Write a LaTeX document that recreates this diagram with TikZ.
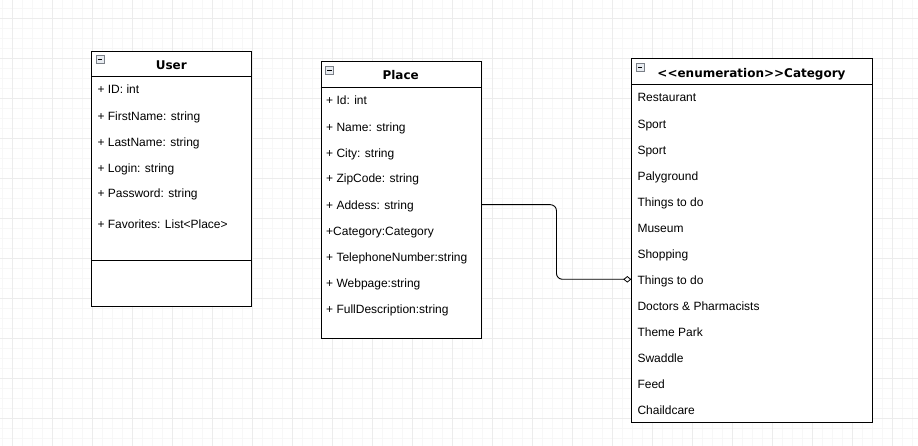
\documentclass[tikz,border=0pt]{standalone}
\usepackage{fontspec}
\setmainfont{Liberation Sans}
\newfontfamily\titlefont{DejaVu Sans}
\usetikzlibrary{arrows.meta,calc}
\definecolor{gridminor}{HTML}{F7F7F7}
\definecolor{gridmajor}{HTML}{ECECEC}
\definecolor{icongray}{HTML}{7A7F87}
\definecolor{iconfill}{HTML}{E8ECF1}
\tikzset{
  umlbox/.style={draw=black, line width=0.9pt, fill=white, anchor=north west, inner sep=0pt, rectangle},
  rowtext/.style={anchor=base west, inner sep=0pt, font=\fontsize{12}{14}\selectfont, text=black},
  titletext/.style={anchor=base, inner sep=0pt, font=\titlefont\bfseries\fontsize{12}{14}\selectfont},
  sepline/.style={line width=0.9pt},
  iconbox/.style={draw=icongray, fill=iconfill, line width=0.6pt, anchor=north west, minimum width=7.5pt, minimum height=7.5pt, inner sep=0pt, rectangle},
  conn/.style={line width=0.9pt, rounded corners=6pt},
}
\begin{document}
\begin{tikzpicture}[x=1pt,y=-1pt]
\useasboundingbox (0,0) rectangle (918,446);
\fill[white] (0,0) rectangle (918,446);
% grid
\foreach \x in {2,12,...,912} \draw[gridminor, line width=0.5pt] (\x,0) -- (\x,446);
\foreach \y in {8,18,...,440} \draw[gridminor, line width=0.5pt] (0,\y) -- (918,\y);
\foreach \x in {12,52,...,912} \draw[gridmajor, line width=0.6pt] (\x,0) -- (\x,446);
\foreach \y in {18,58,...,440} \draw[gridmajor, line width=0.6pt] (0,\y) -- (918,\y);

% ---------- User ----------
\node[umlbox, minimum width=160pt, minimum height=255.3pt] (user) at (91.3,50.7) {};
\draw[sepline] (91.3,76.7) -- (251.3,76.7);
\draw[sepline] (91.3,260.3) -- (251.3,260.3);
\node[iconbox] (uicon) at (96,55.5) {};
\draw[line width=1pt] ($(uicon.center)+(-2.3,0)$) -- ($(uicon.center)+(2.3,0)$);
\node[titletext] (utitle) at (171.3,69.5) {User};
\node[rowtext] (u1) at (97.3,94) {+ ID: int};
\node[rowtext] (u2) at (97.3,120.3) {+ FirstName: string};
\node[rowtext] (u3) at (97.3,146.3) {+ LastName: string};
\node[rowtext] (u4) at (97.3,172.3) {+ Login: string};
\node[rowtext] (u5) at (97.3,198) {+ Password: string};
\node[rowtext] (u6) at (97.3,228.3) {+ Favorites: List<Place>};

% ---------- Place ----------
\node[umlbox, minimum width=160pt, minimum height=277pt] (place) at (320.7,61.3) {};
\draw[sepline] (320.7,87.3) -- (480.7,87.3);
\node[iconbox] (picon) at (325.3,66.5) {};
\draw[line width=1pt] ($(picon.center)+(-2.3,0)$) -- ($(picon.center)+(2.3,0)$);
\node[titletext] (ptitle) at (400.7,80) {Place};
\node[rowtext] (p1) at (326,104.7) {+ Id: int};
\node[rowtext] (p2) at (326,131.3) {+ Name: string};
\node[rowtext] (p3) at (326,157.3) {+ City: string};
\node[rowtext] (p4) at (326,183) {+ ZipCode: string};
\node[rowtext] (p5) at (326,209.3) {+ Addess: string};
\node[rowtext] (p6) at (326,235.3) {+Category:Category};
\node[rowtext] (p7) at (326,261.3) {+ TelephoneNumber:string};
\node[rowtext] (p8) at (326,287.3) {+ Webpage:string};
\node[rowtext] (p9) at (326,313.3) {+ FullDescription:string};

% ---------- Category ----------
\node[umlbox, minimum width=240.4pt, minimum height=364pt] (cat) at (631.3,58.3) {};
\draw[sepline] (631.3,84.3) -- (871.7,84.3);
\node[iconbox] (cicon) at (636,63.3) {};
\draw[line width=1pt] ($(cicon.center)+(-2.3,0)$) -- ($(cicon.center)+(2.3,0)$);
\node[titletext] (ctitle) at (751.5,77.3) {<<enumeration>>Category};
\node[rowtext] (c1) at (637.3,102) {Restaurant};
\node[rowtext] (c2) at (637.3,128.3) {Sport};
\node[rowtext] (c3) at (637.3,154.3) {Sport};
\node[rowtext] (c4) at (637.3,180.3) {Palyground};
\node[rowtext] (c5) at (637.3,206.3) {Things to do};
\node[rowtext] (c6) at (637.3,232.3) {Museum};
\node[rowtext] (c7) at (637.3,258.3) {Shopping};
\node[rowtext] (c8) at (637.3,284.3) {Things to do};
\node[rowtext] (c9) at (637.3,310.3) {Doctors \& Pharmacists};
\node[rowtext] (c10) at (637.3,336.3) {Theme Park};
\node[rowtext] (c11) at (637.3,362.3) {Swaddle};
\node[rowtext] (c12) at (637.3,388.3) {Feed};
\node[rowtext] (c13) at (637.3,414.3) {Chaildcare};

% ---------- connector ----------
\coordinate (pa) at (place.east |- 0,204.7);
\coordinate (cb) at (cat.west |- 0,279.3);
\draw[conn, -{Diamond[open, length=8pt, width=6.5pt, line width=0.8pt]}]
  (pa) -| ($(pa)!0.5!(cb)$) |- (cb);
\end{tikzpicture}
\end{document}
